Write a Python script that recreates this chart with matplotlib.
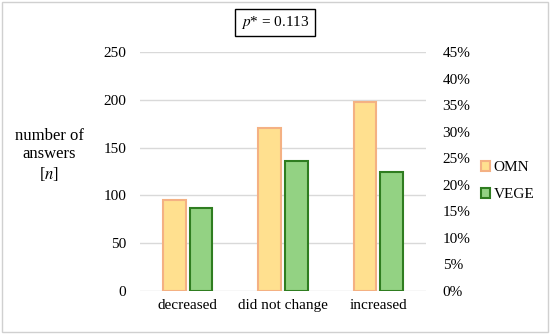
import numpy as np
import matplotlib
matplotlib.use("Agg")
import matplotlib.pyplot as plt
from matplotlib.patches import Rectangle, Patch
from matplotlib.ticker import FuncFormatter

categories = ["decreased", "did not change", "increased"]
omn = [95, 171, 198]
vege = [87, 136, 125]
series_names = ["OMN", "VEGE"]

plt.rcParams["font.family"] = ["Liberation Serif", "DejaVu Serif"]
plt.rcParams["mathtext.fontset"] = "stix"

fig = plt.figure(figsize=(5.5, 3.34), dpi=100)
ax = fig.add_axes([0.2545, 0.1287, 0.52, 0.7156])

x = np.arange(len(categories))
w = 0.24
ax.bar(x - 0.14, omn, w, color="#FFE08F", edgecolor="#F4B183", linewidth=1.5, label=series_names[0], zorder=3)
ax.bar(x + 0.14, vege, w, color="#93D283", edgecolor="#2F7D20", linewidth=1.5, label=series_names[1], zorder=3)

ax.set_xlim(-0.5, 2.5)
ax.set_ylim(0, 250)
ax.set_yticks(np.arange(0, 251, 50))
ax.set_xticks(x)
ax.set_xticklabels(categories, fontsize=11)
ax.tick_params(axis="both", length=0, labelsize=11, pad=10)
ax.tick_params(axis="x", pad=6)
ax.grid(axis="y", color="#D9D9D9", linewidth=1, zorder=0)
for s in ax.spines.values():
    s.set_visible(False)

ax2 = ax.twinx()
ax2.set_ylim(0, 0.45)
ax2.set_yticks(np.arange(0, 0.451, 0.05))
ax2.yaxis.set_major_formatter(FuncFormatter(lambda v, p: "{:.0f}%".format(v * 100)))
ax2.tick_params(axis="y", length=0, labelsize=11, pad=12)
for s in ax2.spines.values():
    s.set_visible(False)

fig.text(0.09, 0.535, "number of\nanswers\n[$n$]", ha="center", va="center",
         fontsize=12, linespacing=1.2)

fig.text(0.5, 0.933, "$p$* = 0.113", ha="center", va="center", fontsize=11,
         bbox=dict(boxstyle="square,pad=0.35", facecolor="white", edgecolor="black", linewidth=1))

handles = [Patch(facecolor="#FFE08F", edgecolor="#F4B183", linewidth=1.5),
           Patch(facecolor="#93D283", edgecolor="#2F7D20", linewidth=1.5)]
fig.legend(handles, series_names, loc="center left", bbox_to_anchor=(0.85, 0.458),
           frameon=False, fontsize=11, handlelength=0.6, handleheight=0.6,
           handletextpad=0.2, labelspacing=0.9)

fig.patches.append(Rectangle((0.004, 0.006), 0.992, 0.988, transform=fig.transFigure,
                             fill=False, edgecolor="#D0D0D0", linewidth=1))

fig.savefig("out.png", dpi=100)
